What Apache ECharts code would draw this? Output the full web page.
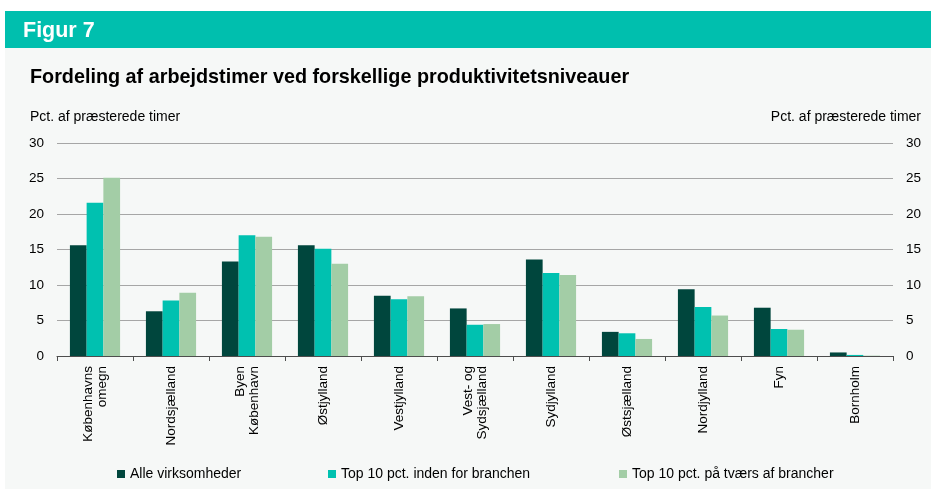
<!DOCTYPE html>
<html>
<head>
<meta charset="utf-8">
<script src="https://cdn.jsdelivr.net/npm/echarts@6/dist/echarts.min.js"></script>
<style>
  html, body { margin: 0; padding: 0; background: #fff; }
  #chart { width: 931px; height: 495px; }
</style>
</head>
<body>
<div id="chart"></div>
<script>
// data
const regions = [
  'Københavns\nomegn', 'Nordsjælland', 'Byen\nKøbenhavn', 'Østjylland', 'Vestjylland',
  'Vest- og\nSydsjælland', 'Sydjylland', 'Østsjælland', 'Nordjylland', 'Fyn', 'Bornholm'
];
const alleVirksomheder = [15.6, 6.3, 13.3, 15.6, 8.5, 6.7, 13.6, 3.4, 9.4, 6.8, 0.5];
const top10Branche = [21.6, 7.8, 17.0, 15.1, 8.0, 4.4, 11.7, 3.2, 6.9, 3.8, 0.15];
const top10Tvaers = [25.1, 8.9, 16.8, 13.0, 8.4, 4.5, 11.4, 2.4, 5.7, 3.7, 0.05];
const yTicks = [0, 5, 10, 15, 20, 25, 30];

const names = ['Alle virksomheder', 'Top 10 pct. inden for branchen', 'Top 10 pct. på tværs af brancher'];
const colors = ['#00463d', '#00c1b0', '#a3cda6'];
const font = 'Liberation Sans, Arial, sans-serif';

let chart = echarts.init(document.getElementById('chart'));

function legendAt(left, name) {
  return {
    left: left, top: 462, data: [name],
    icon: 'rect', itemWidth: 8, itemHeight: 8,
    textStyle: { fontFamily: font, fontSize: 14, color: '#000' }
  };
}

chart.setOption({
  animation: false,
  textStyle: { fontFamily: font },
  graphic: [
    { type: 'rect', z: -10, shape: { x: 5, y: 48, width: 926, height: 441 }, style: { fill: '#f6f8f7' } },
    { type: 'rect', z: -10, shape: { x: 5, y: 11, width: 926, height: 37 }, style: { fill: '#00bfae' } }
  ],
  title: [
    { text: 'Figur 7', left: 18, top: 15, textStyle: { color: '#fff', fontSize: 21.5, fontWeight: 'bold', fontFamily: font } },
    { text: 'Fordeling af arbejdstimer ved forskellige produktivitetsniveauer', left: 25, top: 63,
      textStyle: { color: '#000', fontSize: 19.8, fontWeight: 'bold', fontFamily: font } },
    { text: 'Pct. af præsterede timer', left: 25, top: 105, textStyle: { color: '#000', fontSize: 14, fontWeight: 'normal', fontFamily: font } },
    { text: 'Pct. af præsterede timer', right: 5, top: 105, textStyle: { color: '#000', fontSize: 14, fontWeight: 'normal', fontFamily: font } }
  ],
  legend: [
    legendAt(112, names[0]),
    legendAt(323, names[1]),
    legendAt(614, names[2])
  ],
  grid: { left: 57, right: 38, top: 143, bottom: 139 },
  xAxis: {
    type: 'category',
    data: regions,
    axisLine: { lineStyle: { color: '#4d4d4d', width: 1 } },
    axisTick: { show: true, length: 5, lineStyle: { color: '#4d4d4d' } },
    axisLabel: { rotate: 90, interval: 0, margin: 10, color: '#000', fontSize: 13.5, fontFamily: font, lineHeight: 14 }
  },
  yAxis: [
    {
      type: 'value', min: yTicks[0], max: yTicks[yTicks.length - 1], interval: 5,
      axisLine: { show: false }, axisTick: { show: false },
      axisLabel: { color: '#000', fontSize: 13.5, margin: 13, fontFamily: font },
      splitLine: { lineStyle: { color: '#a6a6a6', width: 1 } }
    },
    {
      type: 'value', position: 'right', min: yTicks[0], max: yTicks[yTicks.length - 1], interval: 5,
      axisLine: { show: false }, axisTick: { show: false },
      axisLabel: { color: '#000', fontSize: 13.5, margin: 13, fontFamily: font },
      splitLine: { show: false }
    }
  ],
  series: [alleVirksomheder, top10Branche, top10Tvaers].map((d, i) => ({
    name: names[i],
    type: 'bar',
    data: d,
    barGap: '0%',
    barCategoryGap: '34%',
    itemStyle: { color: colors[i] }
  }))
});
</script>
</body>
</html>
